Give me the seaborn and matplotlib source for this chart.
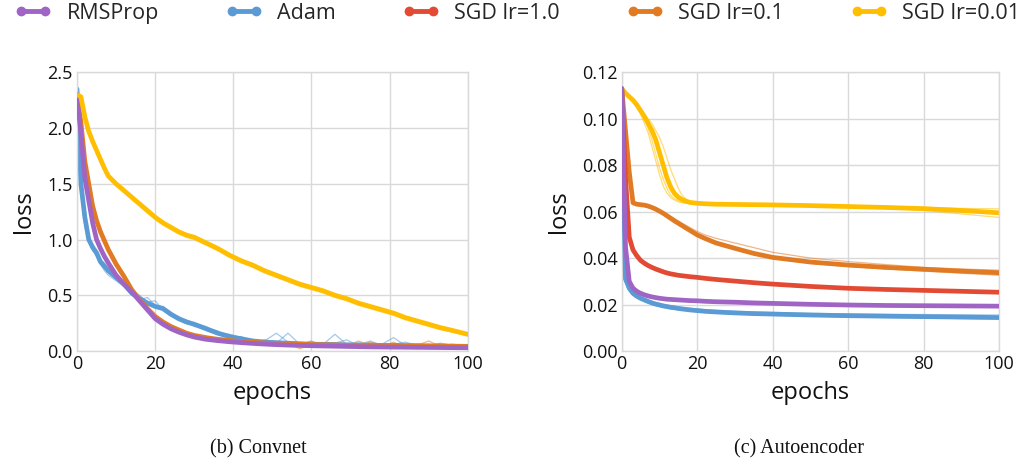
import numpy as np
import pandas as pd
import matplotlib
matplotlib.use("Agg")
import matplotlib.pyplot as plt
from matplotlib.lines import Line2D
import seaborn as sns

# ---------------- data ----------------
SERIES = ["RMSProp", "Adam", "SGD lr=1.0", "SGD lr=0.1", "SGD lr=0.01"]
COLORS = ["#a064c4", "#5b9bd5", "#e24a33", "#e07b24", "#ffbf00"]

CONV_EPOCHS = [0, 1, 2, 3, 4, 5, 6, 7, 8, 10, 12, 14, 16, 18, 20, 22, 24, 26, 28, 30,
               33, 36, 39, 42, 45, 48, 51, 54, 57, 60, 63, 66, 69, 72, 75, 78, 81, 84,
               87, 90, 93, 96, 100]

conv_rmsprop = [2.30, 1.95, 1.55, 1.35, 1.15, 1.00, 0.92, 0.85, 0.79, 0.68, 0.60, 0.53, 0.45,
                0.37, 0.29, 0.24, 0.20, 0.17, 0.145, 0.125, 0.105, 0.093, 0.083, 0.075, 0.068,
                0.062, 0.057, 0.053, 0.050, 0.047, 0.045, 0.043, 0.041, 0.039, 0.037, 0.036,
                0.035, 0.034, 0.033, 0.032, 0.031, 0.030, 0.029]
conv_rmsprop_run = [2.30, 1.98, 1.58, 1.37, 1.17, 1.02, 0.93, 0.86, 0.80, 0.69, 0.61, 0.54, 0.46,
                    0.38, 0.30, 0.25, 0.21, 0.175, 0.15, 0.13, 0.11, 0.096, 0.085, 0.077, 0.07,
                    0.064, 0.059, 0.055, 0.051, 0.048, 0.046, 0.044, 0.042, 0.040, 0.038, 0.037,
                    0.036, 0.035, 0.034, 0.033, 0.032, 0.031, 0.030]

conv_adam = [2.35, 1.50, 1.20, 1.00, 0.93, 0.88, 0.80, 0.76, 0.72, 0.66, 0.60, 0.52, 0.47,
             0.43, 0.40, 0.38, 0.33, 0.29, 0.26, 0.24, 0.20, 0.16, 0.13, 0.11, 0.09, 0.08,
             0.075, 0.07, 0.065, 0.06, 0.06, 0.058, 0.055, 0.055, 0.053, 0.05, 0.05, 0.048,
             0.047, 0.045, 0.045, 0.043, 0.042]
conv_adam_run1 = [2.35, 1.40, 1.12, 0.98, 0.90, 0.85, 0.78, 0.72, 0.68, 0.63, 0.58, 0.50, 0.46,
                  0.48, 0.41, 0.40, 0.35, 0.30, 0.28, 0.25, 0.22, 0.17, 0.15, 0.12, 0.10, 0.09,
                  0.16, 0.08, 0.07, 0.08, 0.06, 0.15, 0.06, 0.07, 0.05, 0.06, 0.12, 0.05, 0.06,
                  0.05, 0.07, 0.05, 0.04]
conv_adam_run2 = [2.33, 1.55, 1.25, 1.02, 0.95, 0.90, 0.82, 0.79, 0.74, 0.68, 0.62, 0.55, 0.50,
                  0.44, 0.45, 0.37, 0.34, 0.31, 0.27, 0.22, 0.21, 0.18, 0.12, 0.13, 0.08, 0.10,
                  0.07, 0.16, 0.06, 0.09, 0.05, 0.07, 0.10, 0.05, 0.09, 0.05, 0.06, 0.08, 0.05,
                  0.06, 0.05, 0.06, 0.05]

conv_sgd01 = [2.30, 2.05, 1.70, 1.50, 1.30, 1.17, 1.07, 0.99, 0.91, 0.78, 0.67, 0.55, 0.46,
              0.38, 0.31, 0.26, 0.22, 0.19, 0.16, 0.14, 0.12, 0.105, 0.095, 0.085, 0.078,
              0.072, 0.068, 0.064, 0.061, 0.058, 0.056, 0.054, 0.052, 0.050, 0.049, 0.048,
              0.047, 0.046, 0.045, 0.044, 0.043, 0.042, 0.041]
conv_sgd01_run1 = [2.30, 2.03, 1.68, 1.48, 1.29, 1.16, 1.06, 0.98, 0.90, 0.77, 0.66, 0.55, 0.46,
                   0.38, 0.31, 0.26, 0.22, 0.19, 0.16, 0.14, 0.12, 0.10, 0.09, 0.08, 0.07, 0.08,
                   0.05, 0.07, 0.02, 0.06, 0.05, 0.07, 0.04, 0.09, 0.05, 0.04, 0.08, 0.03, 0.05,
                   0.09, 0.04, 0.06, 0.04]
conv_sgd01_run2 = [2.30, 2.06, 1.71, 1.51, 1.31, 1.18, 1.08, 1.00, 0.92, 0.79, 0.68, 0.56, 0.47,
                   0.39, 0.32, 0.27, 0.23, 0.19, 0.17, 0.15, 0.12, 0.11, 0.10, 0.09, 0.08, 0.06,
                   0.07, 0.05, 0.06, 0.04, 0.07, 0.05, 0.06, 0.04, 0.08, 0.05, 0.04, 0.06, 0.02,
                   0.05, 0.06, 0.03, 0.04]

conv_sgd001 = [2.30, 2.28, 2.10, 1.97, 1.88, 1.80, 1.72, 1.64, 1.57, 1.50, 1.44, 1.38, 1.32,
               1.26, 1.20, 1.15, 1.11, 1.07, 1.04, 1.02, 0.97, 0.92, 0.86, 0.81, 0.77, 0.72,
               0.68, 0.64, 0.60, 0.57, 0.54, 0.50, 0.47, 0.43, 0.40, 0.37, 0.34, 0.30, 0.27,
               0.24, 0.21, 0.185, 0.15]
conv_sgd001_run = [2.30, 2.27, 2.08, 1.95, 1.86, 1.78, 1.70, 1.62, 1.55, 1.48, 1.42, 1.36, 1.30,
                   1.24, 1.18, 1.13, 1.09, 1.05, 1.02, 1.00, 0.95, 0.90, 0.84, 0.79, 0.75, 0.70,
                   0.66, 0.62, 0.58, 0.55, 0.52, 0.48, 0.45, 0.41, 0.38, 0.35, 0.32, 0.28, 0.25,
                   0.22, 0.19, 0.17, 0.135]

AE_EPOCHS = [0, 1, 2, 3, 4, 5, 6, 7, 8, 9, 10, 11, 12, 13, 14, 15, 16, 17, 18, 20, 22, 25,
             30, 35, 40, 50, 60, 70, 80, 90, 100]

ae_rmsprop = [0.113, 0.045, 0.030, 0.027, 0.0257, 0.0248, 0.0242, 0.0237, 0.0233, 0.0230,
              0.0227, 0.0225, 0.0223, 0.0222, 0.0221, 0.0220, 0.0219, 0.0218, 0.0217, 0.0216,
              0.0214, 0.0212, 0.0210, 0.0207, 0.0205, 0.0201, 0.0198, 0.0196, 0.0195, 0.0194,
              0.0193]
ae_rmsprop_run = [0.113, 0.047, 0.031, 0.028, 0.0265, 0.0255, 0.0248, 0.0242, 0.0237, 0.0233,
                  0.0230, 0.0228, 0.0226, 0.0224, 0.0222, 0.0221, 0.0220, 0.0219, 0.0218,
                  0.0217, 0.0215, 0.0213, 0.0210, 0.0208, 0.0206, 0.0202, 0.0199, 0.0197,
                  0.0195, 0.0194, 0.0193]

ae_adam = [0.113, 0.031, 0.027, 0.0248, 0.0236, 0.0227, 0.0220, 0.0213, 0.0207, 0.0202,
           0.0198, 0.0194, 0.0191, 0.0188, 0.0186, 0.0183, 0.0181, 0.0179, 0.0177, 0.0174,
           0.0171, 0.0168, 0.0164, 0.0161, 0.0159, 0.0155, 0.0152, 0.0150, 0.0148, 0.0146,
           0.0144]
ae_adam_run1 = [0.113, 0.032, 0.0278, 0.0255, 0.0243, 0.0234, 0.0227, 0.0220, 0.0214, 0.0209,
                0.0205, 0.0201, 0.0198, 0.0195, 0.0192, 0.0190, 0.0188, 0.0186, 0.0184, 0.0181,
                0.0178, 0.0175, 0.0171, 0.0168, 0.0166, 0.0162, 0.0160, 0.0158, 0.0157, 0.0156,
                0.0155]
ae_adam_run2 = [0.113, 0.030, 0.026, 0.0240, 0.0229, 0.0220, 0.0213, 0.0207, 0.0201, 0.0196,
                0.0192, 0.0188, 0.0185, 0.0182, 0.0180, 0.0178, 0.0176, 0.0174, 0.0172, 0.0169,
                0.0166, 0.0163, 0.0159, 0.0156, 0.0154, 0.0150, 0.0147, 0.0144, 0.0142, 0.0140,
                0.0138]

ae_sgd1 = [0.113, 0.075, 0.049, 0.0435, 0.0410, 0.0390, 0.0378, 0.0368, 0.0360, 0.0353,
           0.0347, 0.0341, 0.0336, 0.0332, 0.0329, 0.0326, 0.0324, 0.0322, 0.0320, 0.0317,
           0.0313, 0.0308, 0.0301, 0.0294, 0.0288, 0.0278, 0.0270, 0.0265, 0.0261, 0.0257,
           0.0253]
ae_sgd1_run = [0.113, 0.078, 0.051, 0.0445, 0.0420, 0.0398, 0.0385, 0.0374, 0.0365, 0.0357,
               0.0350, 0.0344, 0.0339, 0.0334, 0.0330, 0.0327, 0.0325, 0.0323, 0.0321, 0.0318,
               0.0314, 0.0309, 0.0302, 0.0295, 0.0289, 0.0279, 0.0271, 0.0266, 0.0262, 0.0258,
               0.0254]

ae_sgd01 = [0.113, 0.095, 0.077, 0.0638, 0.0632, 0.0630, 0.0628, 0.0624, 0.0618, 0.0611,
            0.0602, 0.0593, 0.0582, 0.0571, 0.0560, 0.0550, 0.0540, 0.0530, 0.0520, 0.0500,
            0.0485, 0.0465, 0.0442, 0.0420, 0.0403, 0.0383, 0.0370, 0.0360, 0.0352, 0.0344,
            0.0337]
ae_sgd01_run1 = [0.113, 0.096, 0.078, 0.0640, 0.0634, 0.0632, 0.0630, 0.0627, 0.0622, 0.0616,
                 0.0609, 0.0600, 0.0590, 0.0580, 0.0570, 0.0560, 0.0550, 0.0541, 0.0532, 0.0515,
                 0.0500, 0.0485, 0.0465, 0.0445, 0.0425, 0.0400, 0.0385, 0.0372, 0.0360, 0.0353,
                 0.0348]
ae_sgd01_run2 = [0.113, 0.094, 0.076, 0.0636, 0.0630, 0.0628, 0.0626, 0.0622, 0.0616, 0.0609,
                 0.0600, 0.0590, 0.0579, 0.0568, 0.0557, 0.0547, 0.0537, 0.0527, 0.0517, 0.0497,
                 0.0481, 0.0460, 0.0437, 0.0415, 0.0398, 0.0378, 0.0364, 0.0353, 0.0344, 0.0335,
                 0.0326]

ae_sgd001 = [0.113, 0.111, 0.1095, 0.108, 0.106, 0.1035, 0.101, 0.098, 0.095, 0.091, 0.0855,
             0.080, 0.0745, 0.0705, 0.0678, 0.0662, 0.0652, 0.0645, 0.0640, 0.0636, 0.0634,
             0.0632, 0.0631, 0.0630, 0.0629, 0.0626, 0.0622, 0.0618, 0.0613, 0.0605, 0.0595]
ae_sgd001_run1 = [0.113, 0.111, 0.1095, 0.108, 0.106, 0.104, 0.102, 0.100, 0.098, 0.095, 0.092,
                  0.088, 0.083, 0.078, 0.074, 0.070, 0.067, 0.0655, 0.0645, 0.0637, 0.0634,
                  0.0633, 0.0632, 0.0631, 0.0630, 0.0628, 0.0625, 0.0622, 0.0618, 0.0614, 0.0612]
ae_sgd001_run2 = [0.113, 0.111, 0.109, 0.107, 0.105, 0.102, 0.098, 0.094, 0.088, 0.082, 0.076,
                  0.071, 0.068, 0.066, 0.065, 0.0642, 0.0638, 0.0636, 0.0635, 0.0633, 0.0632,
                  0.0631, 0.0630, 0.0629, 0.0628, 0.0625, 0.0620, 0.0614, 0.0605, 0.0590, 0.0575]
ae_sgd001_run3 = [0.113, 0.111, 0.1095, 0.108, 0.1055, 0.103, 0.100, 0.096, 0.091, 0.085, 0.079,
                  0.074, 0.070, 0.067, 0.0655, 0.0647, 0.0641, 0.0638, 0.0636, 0.0634, 0.0633,
                  0.0632, 0.0631, 0.0630, 0.0629, 0.0627, 0.0623, 0.0619, 0.0613, 0.0603, 0.0592]

CAPTIONS = ["(b) Convnet", "(c) Autoencoder"]

# ---------------- style ----------------
sns.set_style("whitegrid")
plt.rcParams["font.family"] = ["Open Sans", "DejaVu Sans"]
GRID = "#d9d9d9"

fig = plt.figure(figsize=(10.31, 4.67), dpi=100)
ax1 = fig.add_axes([0.0747, 0.2484, 0.379, 0.5968])
ax2 = fig.add_axes([0.603, 0.2484, 0.3662, 0.5968])

col = dict(zip(SERIES, COLORS))

def draw(ax, epochs, main, runs, name, z):
    for r in runs:
        sns.lineplot(x=epochs, y=r, ax=ax, color=col[name], linewidth=0.9,
                     alpha=0.55, zorder=z, legend=False)
    sns.lineplot(x=epochs, y=main, ax=ax, color=col[name], linewidth=3.4,
                 zorder=z + 0.5, legend=False)

# Convnet
draw(ax1, CONV_EPOCHS, conv_adam, [conv_adam_run1, conv_adam_run2], "Adam", 2)
draw(ax1, CONV_EPOCHS, conv_sgd01, [conv_sgd01_run1, conv_sgd01_run2], "SGD lr=0.1", 3)
draw(ax1, CONV_EPOCHS, conv_rmsprop, [conv_rmsprop_run], "RMSProp", 4)
draw(ax1, CONV_EPOCHS, conv_sgd001, [conv_sgd001_run], "SGD lr=0.01", 5)

# Autoencoder
draw(ax2, AE_EPOCHS, ae_sgd001, [ae_sgd001_run1, ae_sgd001_run2, ae_sgd001_run3], "SGD lr=0.01", 2)
draw(ax2, AE_EPOCHS, ae_sgd01, [ae_sgd01_run1, ae_sgd01_run2], "SGD lr=0.1", 3)
draw(ax2, AE_EPOCHS, ae_sgd1, [ae_sgd1_run], "SGD lr=1.0", 4)
draw(ax2, AE_EPOCHS, ae_adam, [ae_adam_run1, ae_adam_run2], "Adam", 5)
draw(ax2, AE_EPOCHS, ae_rmsprop, [ae_rmsprop_run], "RMSProp", 6)

for ax, ylim, yticks, fmt in [
    (ax1, (0, 2.5), np.arange(0, 2.51, 0.5), "{:.1f}"),
    (ax2, (0, 0.12), np.arange(0, 0.121, 0.02), "{:.2f}"),
]:
    ax.set_xlim(0, 100)
    ax.set_ylim(*ylim)
    ax.set_xticks(range(0, 101, 20))
    ax.set_yticks(yticks)
    ax.set_yticklabels([fmt.format(v) for v in yticks])
    ax.tick_params(axis="both", length=0, labelsize=13, colors="#111111", pad=3)
    ax.grid(True, color=GRID, linewidth=1.0)
    for s in ax.spines.values():
        s.set_color(GRID)
        s.set_linewidth(1.0)
    ax.set_xlabel("epochs", fontsize=17, labelpad=6, color="#111111")
    ax.set_ylabel("loss", fontsize=17, labelpad=8, color="#111111")

fig.text(258 / 1031, 1 - 449 / 467, CAPTIONS[0], ha="center", va="center",
         fontsize=14.5, family=["Liberation Serif", "DejaVu Serif"], color="#111111")
fig.text(799 / 1031, 1 - 449 / 467, CAPTIONS[1], ha="center", va="center",
         fontsize=14.5, family=["Liberation Serif", "DejaVu Serif"], color="#111111")

handles = [Line2D([], [], color=c, linewidth=3.5, marker="o", markersize=6,
                  solid_capstyle="butt") for c in COLORS]
fig.legend(handles, SERIES, loc="upper center", bbox_to_anchor=(0.502, 1.035),
           ncol=5, frameon=False, fontsize=15.5, numpoints=2, handlelength=1.7,
           handletextpad=0.7, columnspacing=3.1)

fig.savefig("out.png", dpi=100)
